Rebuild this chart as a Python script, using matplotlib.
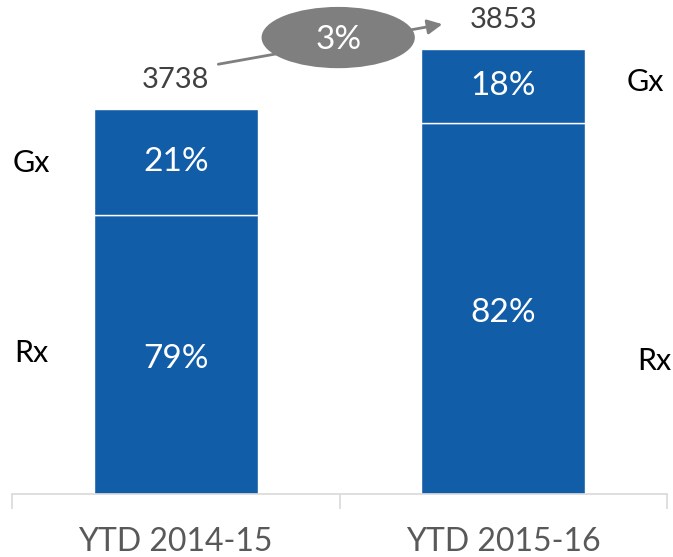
import matplotlib.pyplot as plt
from matplotlib.patches import Ellipse

# Values
periods = ['YTD 2014-15', 'YTD 2015-16']
totals = [3738, 3853]
rx_top = [3535, 3711]          # where the Rx segment ends on the (truncated) value axis
rx_share = ['79%', '82%']
gx_share = ['21%', '18%']
growth = '3%'
y_min = 3000

bar_color = '#125da8'

plt.rcParams['font.family'] = ['Lato', 'DejaVu Sans']

fig = plt.figure(figsize=(6.73, 5.57), dpi=100)
ax = fig.add_axes([12 / 673, 63 / 557, 655 / 673, 494 / 557])

x = range(len(periods))
rx_height = [r - y_min for r in rx_top]
gx_height = [t - r for t, r in zip(totals, rx_top)]

ax.bar(x, rx_height, bottom=y_min, width=0.5, color=bar_color,
       edgecolor='white', linewidth=1)
ax.bar(x, gx_height, bottom=rx_top, width=0.5, color=bar_color,
       edgecolor='white', linewidth=1)

ax.set_xlim(-0.5, 1.5)
ax.set_ylim(y_min, y_min + 494 / 0.5217)

# segment percentages
for i in x:
    ax.text(i, (y_min + rx_top[i]) / 2 - 8, rx_share[i],
            ha='center', va='center', color='white', fontsize=24)
    ax.text(i, (rx_top[i] + totals[i]) / 2, gx_share[i],
            ha='center', va='center', color='white', fontsize=24)
    ax.text(i, totals[i] + 55, str(totals[i]), ha='center', va='center',
            color='#404040', fontsize=21)

# series names beside the bars
ax.text(0.03, 0.67, 'Gx', transform=ax.transAxes, ha='center', va='center', fontsize=22)
ax.text(0.03, 0.285, 'Rx', transform=ax.transAxes, ha='center', va='center', fontsize=22)
ax.text(0.967, 0.834, 'Gx', transform=ax.transAxes, ha='center', va='center', fontsize=22)
ax.text(0.98, 0.27, 'Rx', transform=ax.transAxes, ha='center', va='center', fontsize=22)

# growth callout
ax.annotate('', xy=(0.657, 0.951), xytext=(0.315, 0.87), xycoords='axes fraction',
            arrowprops=dict(arrowstyle='-|>', color='#7f7f7f', lw=2,
                            mutation_scale=22, shrinkA=0, shrinkB=0))
ax.add_patch(Ellipse((0.498, 0.924), 0.234, 0.124, transform=ax.transAxes,
                     facecolor='#7f7f7f', edgecolor='none', zorder=5))
ax.text(0.498, 0.92, growth, transform=ax.transAxes, ha='center', va='center',
        color='white', fontsize=24, zorder=6)

# axis styling
for side in ['top', 'right', 'left']:
    ax.spines[side].set_visible(False)
ax.spines['bottom'].set_color('#d9d9d9')
ax.spines['bottom'].set_linewidth(1.2)
ax.set_yticks([])
ax.set_xticks([-0.5, 0.5, 1.5])
ax.set_xticklabels([])
ax.tick_params(axis='x', which='major', length=11, color='#d9d9d9', width=1.2)
ax.set_xticks(list(x), minor=True)
ax.set_xticklabels(periods, minor=True, fontsize=23, color='#595959')
ax.tick_params(axis='x', which='minor', length=0, pad=24)

fig.savefig('out.png', dpi=100)
